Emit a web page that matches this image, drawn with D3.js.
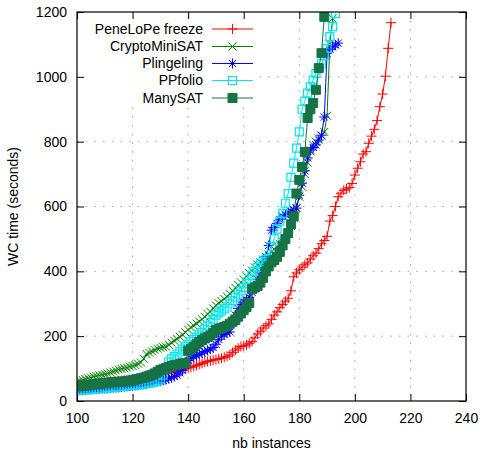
<!DOCTYPE html>
<html><head><meta charset="utf-8">
<script src="https://cdn.jsdelivr.net/npm/d3@7/dist/d3.min.js"></script>
<style>
html,body{margin:0;padding:0;background:#fff;}
svg{display:block;font-family:"Liberation Sans",Arial,sans-serif;}
</style></head>
<body>
<svg id="chart" width="480" height="451"></svg>
<script>
// ---- data (y values for x = start, start+1, ...) ----
const xStart = 100;
const xTicks = [100,120,140,160,180,200,220,240];
const yTicks = [0,200,400,600,800,1000,1200];
const seriesNames = ["PeneLoPe freeze","CryptoMiniSAT","Plingeling","PPfolio","ManySAT"];

const penelope = [48,48,49,50,51,52,53,54,55,56,57,58,59,60,61,62,63,64,65,66,67,68,69,70,71,72,73,75,76,78,80,82,84,86,88,90,92,94,96,99,
102,104,107,110,113,116,120,122,124,126,128,130,132,135,138,142,150,157,163,168,170,173,178,183,195,207,215,225,232,238,
252,265,275,288,298,308,317,340,383,395,405,413,420,426,438,448,456,470,485,495,508,555,572,600,630,641,650,654,658,671,
697,718,738,762,769,795,817,838,865,908,947,1002,1088,1167];

const cryptominisat = [60,63,65,68,70,72,75,77,79,81,83,85,88,91,94,97,99,101,103,106,108,111,115,119,130,145,149,153,157,161,
164,166,168,173,180,186,192,198,204,212,220,227,233,239,245,252,260,268,275,286,295,302,308,315,322,330,340,349,358,366,
375,385,394,402,412,421,428,436,444,452,460,468,476,484,492,500,515,540,565,595,630,661,700,735,770,790,800,810,818,830,
880,1100,1180];

const plingeling = [32,33,33,34,35,35,36,37,37,38,38,39,40,41,41,42,43,44,45,46,47,48,49,50,51,53,55,56,58,60,
62,64,66,69,72,76,80,87,95,110,125,132,136,140,144,148,152,156,160,165,175,190,200,205,210,213,240,265,285,298,
305,312,320,335,355,375,395,420,445,480,527,535,548,560,570,575,580,585,590,595,635,672,710,750,774,782,790,805,820,876,
1073,1085,1092,1098,1104];

const ppfolio = [33,34,34,35,35,36,37,38,38,39,40,41,42,43,43,44,45,46,47,48,49,50,51,52,53,55,56,58,60,63,
68,80,100,120,130,137,145,152,160,168,175,183,190,197,204,212,222,232,242,252,265,272,278,284,290,300,310,320,330,340,
350,362,375,388,400,412,422,430,436,440,476,500,530,555,579,610,640,690,734,780,830,900,925,950,970,990,1010,1025,1040,1065,
1088,1124,1155,1196];

const manysat = [45,46,47,48,49,50,51,52,53,54,55,56,57,58,58,59,60,60,61,62,64,66,68,70,72,75,78,81,85,90,
95,98,102,105,108,110,112,114,116,117,155,160,167,175,182,188,193,197,202,210,219,222,225,228,232,238,245,250,260,270,
280,290,302,345,350,355,365,380,400,415,428,435,445,460,480,500,518,545,570,640,682,722,768,873,900,919,960,1027,1073,1185];

const seriesValues = [penelope, cryptominisat, plingeling, ppfolio, manysat];
const colors = ["#ff0000","#008000","#0000ff","#00e5ee","#167346"];
const markers = ["plus","cross","star","box","fbox"];

// ---- layout ----
const svg = d3.select("#chart");
const L = 77, R = 466, T = 12, B = 401;
const x = d3.scaleLinear().domain([100,240]).range([L,R]);
const y = d3.scaleLinear().domain([0,1200]).range([B,T]);

// grid
const grid = svg.append("g");
grid.selectAll("line.gx").data(xTicks.slice(1,-1)).join("line")
  .attr("x1",d=>x(d)).attr("x2",d=>x(d)).attr("y1",T).attr("y2",B)
  .attr("stroke","#a0a0a0").attr("stroke-width",1).attr("stroke-dasharray","1.5,7.2");
grid.selectAll("line.gy").data(yTicks.slice(1,-1)).join("line")
  .attr("x1",L).attr("x2",R).attr("y1",d=>y(d)).attr("y2",d=>y(d))
  .attr("stroke","#a0a0a0").attr("stroke-width",1).attr("stroke-dasharray","1.5,7.2");

// legend background (opaque key)
svg.append("rect").attr("x",L+1).attr("y",T+1).attr("width",178).attr("height",94).attr("fill","#fff");

// clip
svg.append("clipPath").attr("id","clip").append("rect")
  .attr("x",L).attr("y",T).attr("width",R-L).attr("height",B-T);

function markerPath(type){
  const h = 5;
  switch(type){
    case "plus": return `M${-h},0H${h}M0,${-h}V${h}`;
    case "cross": { const c=4; return `M${-c},${-c}L${c},${c}M${-c},${c}L${c},${-c}`; }
    case "star": { const c=3.6; return `M${-h},0H${h}M0,${-h}V${h}M${-c},${-c}L${c},${c}M${-c},${c}L${c},${-c}`; }
    case "box": return `M-4,-4H4V4H-4Z`;
    case "fbox": return `M-4.5,-4.5H4.5V4.5H-4.5Z`;
  }
}
function drawMarker(g, type, color){
  g.append("path").attr("d",markerPath(type))
    .attr("fill", type==="fbox"?color:"none")
    .attr("stroke",color).attr("stroke-width", type==="box"?1.2:1);
}

const plot = svg.append("g").attr("clip-path","url(#clip)");
const line = d3.line().x((d,i)=>x(xStart+i)).y(d=>y(d));
seriesValues.forEach((vals,k)=>{
  const g = plot.append("g");
  g.append("path").datum(vals).attr("d",line).attr("fill","none")
    .attr("stroke",colors[k]).attr("stroke-width",1);
  vals.forEach((v,i)=>{
    const m = g.append("g").attr("transform",`translate(${x(xStart+i)},${y(v)})`);
    drawMarker(m, markers[k], colors[k]);
  });
});

// legend
const legY = [29,46.5,63.5,80.5,98];
seriesNames.forEach((name,k)=>{
  svg.append("text").attr("x",203).attr("y",legY[k]).attr("dy","0.35em")
    .attr("text-anchor","end").attr("font-size",14).attr("fill","#000").text(name);
  svg.append("line").attr("x1",212).attr("x2",253).attr("y1",legY[k]).attr("y2",legY[k])
    .attr("stroke",colors[k]).attr("stroke-width",1);
  const m = svg.append("g").attr("transform",`translate(232.5,${legY[k]})`);
  drawMarker(m, markers[k], colors[k]);
});

// axes (ticks inward, labels outside)
const tk = 7;
const axB = svg.append("g").attr("transform",`translate(0,${B})`)
  .call(d3.axisBottom(x).tickValues(xTicks).tickSize(-tk).tickPadding(12).tickFormat(d3.format("d")));
const axT = svg.append("g").attr("transform",`translate(0,${T})`)
  .call(d3.axisTop(x).tickValues(xTicks).tickSize(-tk).tickFormat(""));
const axL = svg.append("g").attr("transform",`translate(${L},0)`)
  .call(d3.axisLeft(y).tickValues(yTicks).tickSize(-tk).tickPadding(10).tickFormat(d3.format("d")));
const axR = svg.append("g").attr("transform",`translate(${R},0)`)
  .call(d3.axisRight(y).tickValues(yTicks).tickSize(-tk).tickFormat(""));
[axB,axT,axL,axR].forEach(a=>{
  a.select(".domain").remove();
  a.selectAll(".tick line").attr("stroke","#000").attr("stroke-width",1);
  a.selectAll(".tick text").attr("font-size",14).attr("fill","#000")
    .attr("font-family","'Liberation Sans',Arial,sans-serif");
});
svg.append("rect").attr("x",L).attr("y",T).attr("width",R-L).attr("height",B-T)
  .attr("fill","none").attr("stroke","#000").attr("stroke-width",1.2);

// axis titles
svg.append("text").attr("x",(L+R)/2).attr("y",448).attr("text-anchor","middle")
  .attr("font-size",14).attr("fill","#000").text("nb instances");
svg.append("text").attr("transform",`translate(17.5,${(T+B)/2}) rotate(-90)`)
  .attr("text-anchor","middle").attr("font-size",14).attr("fill","#000").text("WC time (seconds)");
</script>
</body></html>
